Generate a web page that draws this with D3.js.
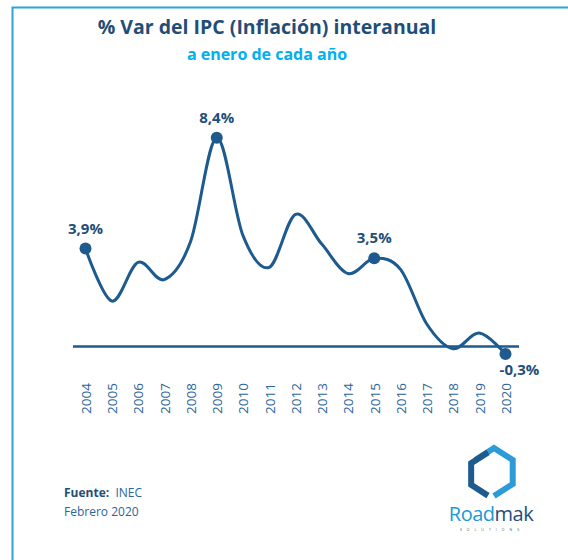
<!DOCTYPE html>
<html><head><meta charset="utf-8">
<script src="https://cdn.jsdelivr.net/npm/d3@7"></script>
<style>body{margin:0;background:#fff;} svg{display:block;}</style>
</head><body>
<svg id="c" width="568" height="560"></svg>
<script>
const years = ["2004","2005","2006","2007","2008","2009","2010","2011","2012","2013","2014","2015","2016","2017","2018","2019","2020"];
const inflation = [3.92,1.82,3.37,2.68,4.19,8.36,4.44,3.17,5.29,4.10,2.92,3.53,3.09,0.90,-0.09,0.54,-0.30];
const labelled = [{year:"2004",text:"3,9%"},{year:"2009",text:"8,4%"},{year:"2015",text:"3,5%"},{year:"2020",text:"-0,3%"}];
const titleText = "% Var del IPC (Inflación) interanual";
const subtitleText = "a enero de cada año";

const svg = d3.select("#c");
const dark = "#1f4e79", lineC = "#1d5a8e", cyan = "#00b0f0", axisC = "#2a6499";
const F = "'Open Sans', sans-serif";

// frame
svg.append("path").attr("d","M12.5,560 V7.5 H568").attr("fill","none").attr("stroke","#2fa3da").attr("stroke-width",2);

svg.append("text").attr("x",267).attr("y",34).attr("text-anchor","middle")
  .attr("font-family",F).attr("font-weight",700).attr("font-size",19.5).attr("fill",dark).text(titleText);
svg.append("text").attr("x",267).attr("y",60).attr("text-anchor","middle")
  .attr("font-family",F).attr("font-weight",700).attr("font-size",16).attr("fill",cyan).text(subtitleText);

const x = d3.scalePoint().domain(years).range([85.5,505.5]);
const y = d3.scaleLinear().domain([0,8.4]).range([346.5,136.7]);

// zero line
svg.append("line").attr("x1",73).attr("x2",519).attr("y1",y(0)).attr("y2",y(0))
  .attr("stroke",lineC).attr("stroke-width",2.5);

const data = years.map((yr,i)=>({year:yr,v:inflation[i]}));
const line = d3.line().x(d=>x(d.year)).y(d=>y(d.v)).curve(d3.curveCardinal.tension(0));
svg.append("path").datum(data).attr("d",line).attr("fill","none").attr("stroke",lineC).attr("stroke-width",3);

const lab = labelled.map(l=>({...l, v:inflation[years.indexOf(l.year)]}));
svg.selectAll("circle.pt").data(lab).join("circle").attr("class","pt")
  .attr("cx",d=>x(d.year)).attr("cy",d=>y(d.v)).attr("r",6).attr("fill",lineC);
svg.selectAll("text.lab").data(lab).join("text").attr("class","lab")
  .attr("x",d=>x(d.year) + (d.v<0?14:0))
  .attr("y",d=>d.v<0 ? y(d.v)+21 : y(d.v)-15)
  .attr("text-anchor","middle").attr("font-family",F).attr("font-weight",700).attr("font-size",15)
  .attr("fill",dark).text(d=>d.text);

// axis
const ax = svg.append("g").attr("transform","translate(0,383)")
  .call(d3.axisBottom(x).tickSize(0).tickPadding(0));
ax.select(".domain").remove();
ax.selectAll("text").attr("transform","rotate(-90)").attr("x",0).attr("y",0).attr("dy","0.36em")
  .attr("text-anchor","end").attr("font-family",F).attr("font-size",13.5).attr("fill",axisC);

// footer
const ft = svg.append("text").attr("x",64).attr("y",497).attr("font-family",F).attr("font-size",12).attr("fill",dark);
ft.append("tspan").attr("font-weight",700).text("Fuente:");
ft.append("tspan").attr("fill",axisC).text("\u00a0 INEC");
svg.append("text").attr("x",64).attr("y",516).attr("font-family",F).attr("font-size",12).attr("fill",axisC).text("Febrero 2020");

// logo
const lg = svg.append("g").attr("transform","translate(491,473)");
const hx = (r)=>{const p=[];for(let k=0;k<6;k++){const a=Math.PI/180*(-90+60*k);p.push([r*0.9*Math.cos(a),r*Math.sin(a)]);}return p;};
const o = hx(24);
lg.append("path").attr("d",`M${o[5]} L${o[0]} L${o[1]} L${o[2]} L${o[3]}`).attr("fill","none").attr("stroke","#2d9bd8").attr("stroke-width",6).attr("transform","translate(3,-1)");
lg.append("path").attr("d",`M${o[0].map(v=>v*0.9)} L${o[5].map(v=>v*0.9)} L${o[4].map(v=>v*0.9)} L${o[3].map(v=>v*0.9)}`).attr("fill","none").attr("stroke","#1d5a8e").attr("stroke-width",6).attr("transform","translate(-3,1)");
const lt = svg.append("text").attr("x",491).attr("y",521).attr("text-anchor","middle").attr("font-family",F).attr("font-size",20).attr("letter-spacing",-0.5);
lt.append("tspan").attr("fill","#1a9ad6").text("Road");
lt.append("tspan").attr("fill",dark).text("mak");
svg.append("text").attr("x",492).attr("y",531).attr("text-anchor","middle").attr("font-family",F).attr("font-size",3.5).attr("letter-spacing",5).attr("fill","#555").text("SOLUTIONS");
</script>
</body></html>
